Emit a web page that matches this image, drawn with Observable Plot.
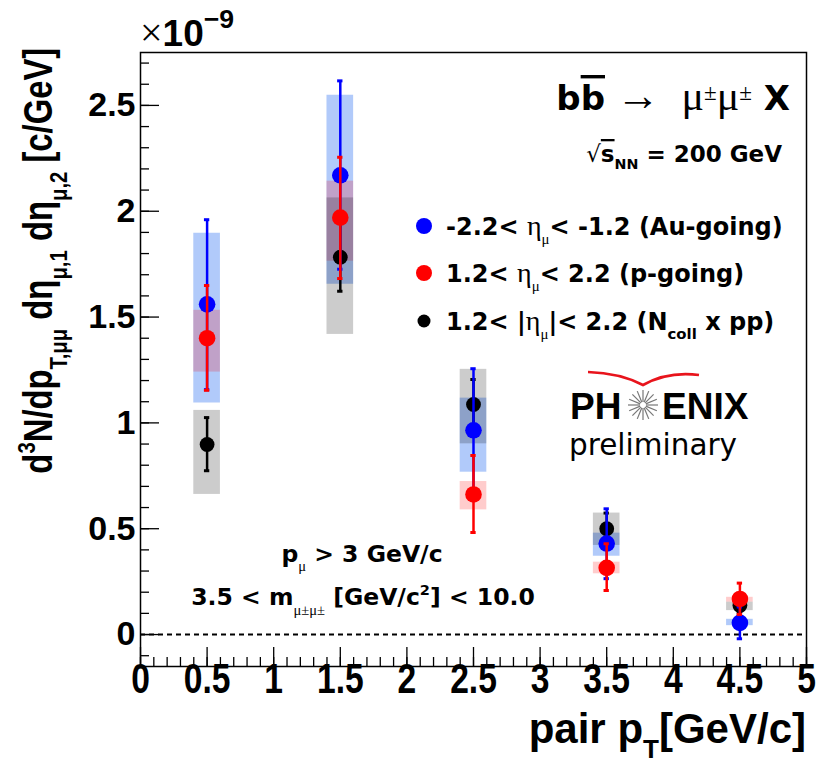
<!DOCTYPE html>
<html><head><meta charset="utf-8">
<script src="https://cdn.jsdelivr.net/npm/d3@7"></script>
<script src="https://cdn.jsdelivr.net/npm/@observablehq/plot@0.6"></script>
<style>body{margin:0;background:#fff}</style>
</head><body><div id="chart"></div>
<script>
// pair pT bin centres [GeV/c]
const xs = [0.5, 1.5, 2.5, 3.5, 4.5];
// values in units of 1e-9 c/GeV
const auY      = [1.56, 2.17, 0.965, 0.43, 0.055];
const auStatLo = [1.157, 1.726, 0.68, 0.264, -0.02];
const auStatHi = [1.960, 2.616, 1.256, 0.594, 0.13];
const auSysLo  = [1.094, 1.655, 0.767, 0.370, 0.042];
const auSysHi  = [1.896, 2.548, 1.117, 0.479, 0.072];
const pY       = [1.40, 1.97, 0.662, 0.315, 0.168];
const pStatLo  = [1.154, 1.682, 0.482, 0.208, 0.095];
const pStatHi  = [1.649, 2.255, 0.846, 0.429, 0.243];
const pSysLo   = [1.240, 1.764, 0.589, 0.287, 0.153];
const pSysHi   = [1.532, 2.142, 0.723, 0.342, 0.176];
const ppY      = [0.898, 1.783, 1.087, 0.50, 0.137];
const ppStatLo = [0.774, 1.622, 0.97, 0.43, 0.10];
const ppStatHi = [1.025, 1.945, 1.205, 0.574, 0.17];
const ppSysLo  = [0.662, 1.418, 0.901, 0.421, 0.113];
const ppSysHi  = [1.059, 2.063, 1.253, 0.574, 0.153];

const xTickLabels = [0, 0.5, 1, 1.5, 2, 2.5, 3, 3.5, 4, 4.5, 5];
const yTickLabels = [0, 0.5, 1, 1.5, 2, 2.5];
const xMinor = d3.range(0, 51).map(i => i / 10);
const yMinor = d3.range(-1, 28).map(i => i / 10);

function rows(y, sl, sh, yl, yh, s) {
  return xs.map((x, i) => ({series: s, x, y: y[i], statLo: sl[i], statHi: sh[i], sysLo: yl[i], sysHi: yh[i]}));
}
const au = rows(auY, auStatLo, auStatHi, auSysLo, auSysHi, "au");
const pg = rows(pY, pStatLo, pStatHi, pSysLo, pSysHi, "p");
const pp = rows(ppY, ppStatLo, ppStatHi, ppSysLo, ppSysHi, "pp");

const boxHalf = 0.1, capHalf = 0.02;
const FONT = "'Liberation Sans', Arial, Helvetica, sans-serif";
const WIDE = "'DejaVu Sans', Verdana, sans-serif";
const SERIF = "'Liberation Serif', 'Times New Roman', serif";

function seriesMarks(data, color, r) {
  return [
    Plot.ruleX(data, {x: "x", y1: "statLo", y2: "statHi", stroke: color, strokeWidth: 2.5}),
    Plot.ruleY(data, {y: "statHi", x1: d => d.x - capHalf, x2: d => d.x + capHalf, stroke: color, strokeWidth: 3}),
    Plot.ruleY(data, {y: "statLo", x1: d => d.x - capHalf, x2: d => d.x + capHalf, stroke: color, strokeWidth: 3}),
    Plot.dot(data, {x: "x", y: "y", r, fill: color, stroke: null})
  ];
}
function boxes(data, fill, op) {
  return Plot.rect(data, {x1: d => d.x - boxHalf, x2: d => d.x + boxHalf, y1: "sysLo", y2: "sysHi", fill, fillOpacity: op});
}

const plot = Plot.plot({
  width: 819, height: 765,
  marginLeft: 140, marginRight: 13, marginTop: 52, marginBottom: 99,
  x: {domain: [0, 5], axis: null},
  y: {domain: [-0.151, 2.750], axis: null},
  style: {background: "white", fontFamily: FONT, overflow: "visible"},
  marks: [
    boxes(au, "rgb(100,150,245)", 0.5),
    boxes(pg, "#ff0000", 0.2),
    boxes(pp, "#000000", 0.2),
    Plot.ruleY([0], {stroke: "black", strokeWidth: 2, strokeDasharray: "5,4"}),
    ...seriesMarks(pp, "black", 7.4),
    ...seriesMarks(au, "#0000ff", 8.3),
    ...seriesMarks(pg, "#ff0000", 8.3),
    // inward ticks
    Plot.ruleX(xMinor, {x: d => d, insetTop: 605, stroke: "black", strokeWidth: 1.3}),
    Plot.ruleX(xTickLabels, {x: d => d, insetTop: 595, stroke: "black", strokeWidth: 1.3}),
    Plot.ruleY(yMinor, {y: d => d, insetRight: 657, stroke: "black", strokeWidth: 1.3}),
    Plot.ruleY(yTickLabels, {y: d => d, insetRight: 647, stroke: "black", strokeWidth: 1.3}),
    Plot.frame({stroke: "black", strokeWidth: 1.5}),
    Plot.text(xTickLabels, {x: d => d, frameAnchor: "bottom", dy: 26, text: d => String(d), fontSize: 42, fontWeight: "bold", fill: "black"}),
    Plot.text(yTickLabels, {y: d => d, frameAnchor: "left", dx: -5, textAnchor: "end", text: d => String(d), fontSize: 34, fontWeight: "bold", fill: "black"})
  ]
});
document.getElementById("chart").appendChild(plot);

const svg = d3.select(plot);
// condense the x tick labels horizontally (ROOT axis font look)
svg.selectAll('g[aria-label="text"]').filter((d, i) => i === 0).selectAll("text").each(function () {
  const el = d3.select(this);
  let tr = el.attr("transform") || "";
  if (el.attr("x") != null || el.attr("y") != null) {
    tr = `translate(${+el.attr("x") || 0},${+el.attr("y") || 0}) ` + tr;
    el.attr("x", null).attr("y", null);
  }
  el.attr("transform", tr + " scale(0.8,1)");
});

// ---- rich text annotations (sub/superscripts) ----
const sx = plot.scale("x"), sy = plot.scale("y");
const g = svg.append("g").attr("text-anchor", "start");

function rich(x, y, segs, {size, anchor = "start", weight = "bold", family = FONT, transform = null}) {
  const t = g.append("text").attr("x", x).attr("y", y).attr("text-anchor", anchor)
    .attr("font-size", size).attr("font-weight", weight).attr("font-family", family).attr("fill", "black");
  if (transform) t.attr("transform", transform);
  let cur = 0;
  for (const s of segs) {
    const shift = s.sub ? size * (s.off ?? 0.38) : s.sup ? -size * (s.off ?? 0.45) : 0;
    const ts = t.append("tspan").text(s.t).attr("dy", shift - cur);
    cur = shift;
    if (s.sub || s.sup) ts.attr("font-size", size * (s.scale ?? 0.62));
    if (s.size) ts.attr("font-size", s.size);
    if (s.w) ts.attr("font-weight", s.w);
    if (s.f) ts.attr("font-family", s.f);
    if (s.dec) ts.style("text-decoration", s.dec);
  }
  return t;
}

// x10^-9
rich(sx.apply(0), 46, [
  {t: "×", w: "normal", f: SERIF, size: 40}, {t: "10"}, {t: "−9", sup: true, scale: 0.72, off: 0.5}
], {size: 37});

// Y title
rich(0, 0, [
  {t: "d"}, {t: "3", sup: true, off: 0.42}, {t: "N/dp"}, {t: "T,μμ", sub: true},
  {t: " dη"}, {t: "μ,1", sub: true}, {t: " dη"}, {t: "μ,2", sub: true}, {t: " [c/GeV]"}
], {size: 40, anchor: "end", transform: `translate(52, ${sy.apply(2.77)}) rotate(-90) scale(0.82,1)`});

// X title
rich(sx.apply(5), 743, [
  {t: "pair p"}, {t: "T", sub: true, off: 0.36}, {t: "[GeV/c]"}
], {size: 42, anchor: "end"});

// process label
rich(790, 110, [
  {t: "b"}, {t: "b", dec: "overline"}, {t: " → ", w: "normal", f: SERIF, size: 44},
  {t: " μ", w: "normal", f: SERIF, size: 42}, {t: "±", w: "normal", f: SERIF, sup: true, scale: 0.68, off: 0.3},
  {t: "μ", w: "normal", f: SERIF, size: 42}, {t: "±", w: "normal", f: SERIF, sup: true, scale: 0.68, off: 0.3},
  {t: " X"}
], {size: 34, anchor: "end", family: WIDE});

// sqrt s_NN
rich(782, 162, [
  {t: "√", w: "normal"}, {t: "s", dec: "overline"}, {t: "NN", sub: true, off: 0.3}, {t: " = 200 GeV"}
], {size: 23, anchor: "end", family: WIDE});

// legend
const legend = [
  {color: "#0000ff", r: 8, y: 226, segs: [{t: "-2.2< "}, {t: "η", w: "normal", f: SERIF, size: 28}, {t: "μ", sub: true, w: "normal", f: SERIF}, {t: "< -1.2 (Au-going)"}]},
  {color: "#ff0000", r: 8, y: 273, segs: [{t: "1.2< "}, {t: "η", w: "normal", f: SERIF, size: 28}, {t: "μ", sub: true, w: "normal", f: SERIF}, {t: "< 2.2 (p-going)"}]},
  {color: "#000000", r: 6.5, y: 321, segs: [{t: "1.2< |"}, {t: "η", w: "normal", f: SERIF, size: 28}, {t: "μ", sub: true, w: "normal", f: SERIF}, {t: "|< 2.2 (N"}, {t: "coll", sub: true}, {t: " x pp)"}]}
];
for (const L of legend) {
  g.append("circle").attr("cx", 424).attr("cy", L.y).attr("r", L.r).attr("fill", L.color);
  rich(446, L.y + 9, L.segs, {size: 24, family: WIDE});
}

// cuts
rich(362, 562, [{t: "p"}, {t: "μ", sub: true, w: "normal", f: SERIF}, {t: " > 3 GeV/c"}], {size: 23.5, anchor: "middle", family: WIDE});
rich(363, 605, [
  {t: "3.5 < m"}, {t: "μ±μ±", sub: true, w: "normal", f: SERIF, off: 0.42},
  {t: " [GeV/c"}, {t: "2", sup: true, off: 0.42}, {t: "] < 10.0"}
], {size: 23.5, anchor: "middle", family: WIDE});

// PHENIX preliminary logo
g.append("path").attr("d", "M588,372 Q620,373 643,385 Q668,371 699,375").attr("fill", "none").attr("stroke", "#e8141c").attr("stroke-width", 2.6);
const logo = g.append("text").attr("text-anchor", "start").attr("fill", "black");
logo.append("tspan").attr("x", 570).attr("y", 419).attr("font-family", FONT).attr("font-weight", "bold").attr("font-size", 37).text("PH");
logo.append("tspan").attr("x", 662).attr("y", 419).attr("font-family", FONT).attr("font-weight", "bold").attr("font-size", 37).text("ENIX");
g.append("text").attr("x", 569).attr("y", 455).attr("text-anchor", "start").attr("fill", "black")
  .attr("font-family", WIDE).attr("font-weight", "normal").attr("font-size", 29.5).text("preliminary");
const star = g.append("g").attr("transform", "translate(643,405)");
for (let i = 0; i < 16; i++) {
  const a = i * Math.PI / 8;
  star.append("line").attr("x1", 3 * Math.cos(a)).attr("y1", 3 * Math.sin(a)).attr("x2", 15 * Math.cos(a)).attr("y2", 15 * Math.sin(a))
    .attr("stroke", "#777").attr("stroke-width", 1.2);
}
</script>
</body></html>
